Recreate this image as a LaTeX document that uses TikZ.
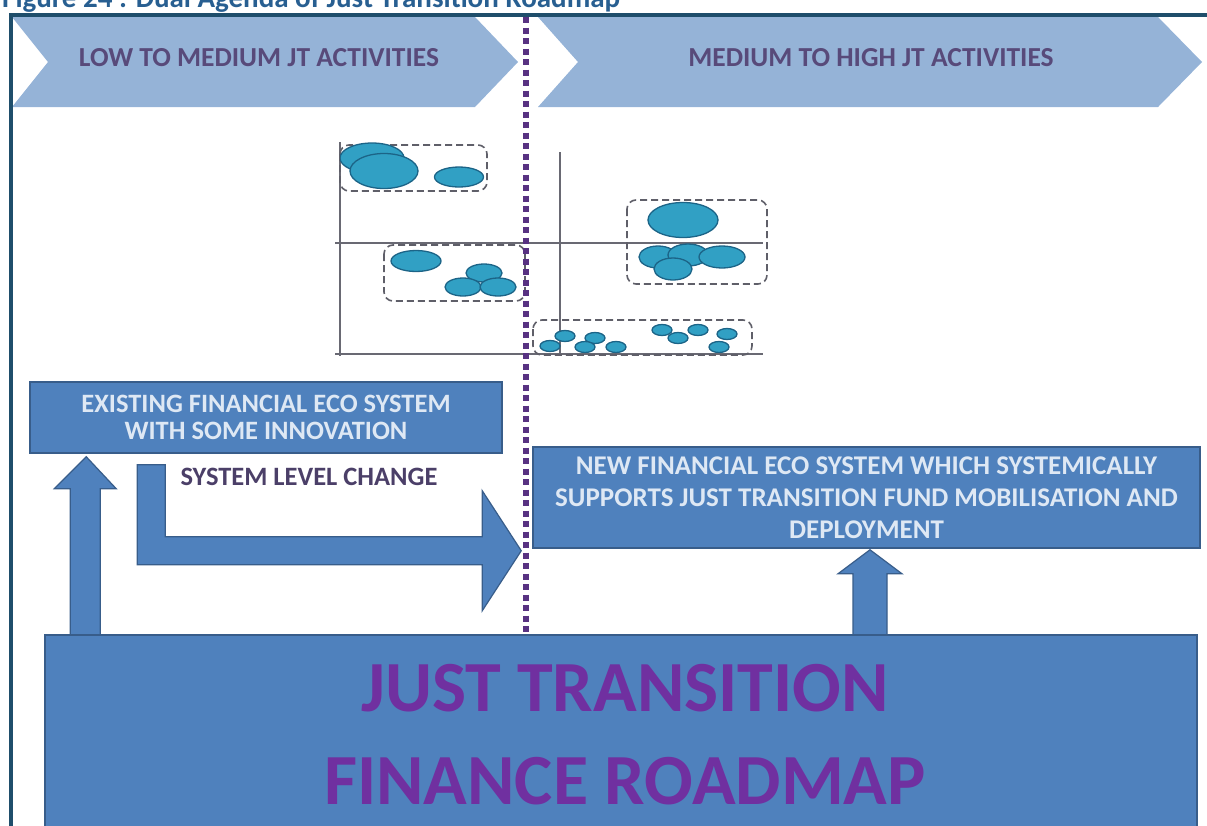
\documentclass[tikz,border=0pt]{standalone}
\usepackage{fontspec}
\setmainfont{Carlito}
\usepackage{tikz}
\usetikzlibrary{calc}
\usetikzlibrary{positioning}
\usetikzlibrary{shapes}
\definecolor{framecol}{RGB}{31,78,107}
\definecolor{chevfill}{RGB}{149,179,215}
\definecolor{headtxt}{RGB}{88,74,122}
\definecolor{boxfill}{RGB}{79,129,189}
\definecolor{boxline}{RGB}{56,93,138}
\definecolor{boxtxt}{RGB}{222,232,244}
\definecolor{dotcol}{RGB}{88,50,130}
\definecolor{bubfill}{RGB}{49,160,196}
\definecolor{bubline}{RGB}{28,100,135}
\definecolor{axiscol}{RGB}{105,105,115}
\definecolor{grpline}{RGB}{95,95,105}
\definecolor{wordart}{RGB}{112,48,160}
\definecolor{titlecol}{RGB}{40,95,145}
\tikzset{
  figtitle/.style = {font=\fontsize{29}{33}\selectfont\bfseries, text=titlecol, inner sep=0pt},
  chevron/.style = {fill=chevfill},
  headlabel/.style = {font=\fontsize{27.5}{31}\selectfont\bfseries, text=headtxt},% band labels
  ecobox/.style = {fill=boxfill, draw=boxline, line width=1.5pt, align=center, text=boxtxt,
    inner sep=0pt, font=\fontsize{26.5}{26.5}\selectfont\bfseries},
  roadbox/.style = {ecobox, text=wordart, font=\fontsize{72}{93}\selectfont\bfseries},
  blockarrow/.style = {fill=boxfill, draw=boxline, line width=1.2pt, line join=miter},
  changelabel/.style = {font=\fontsize{26.5}{30}\selectfont\bfseries, text=headtxt!85!black},
  group/.style = {draw=grpline, line width=1.6pt, rounded corners=9pt, dash pattern=on 7pt off 4pt},
  axis/.style = {draw=axiscol, line width=1.2pt},
  bubble/.style = {fill=bubfill, draw=bubline, line width=1.3pt},
  jtsep/.style = {draw=dotcol, line width=5.5pt, dash pattern=on 6pt off 4.5pt},
}
\begin{document}
\begin{tikzpicture}[x=1pt,y=-1pt]
\useasboundingbox (0,0) rectangle (1207,825);
\clip (0,0) rectangle (1207,825);
% caption, cut by the top edge
\node[figtitle, anchor=base west] (title) at (2,7) {Figure 24 : Dual Agenda of Just Transition Roadmap};

% the two bands
\fill[chevron] (12,17) -- (475,17) -- (518,62) -- (475,107) -- (12,107) -- (48,62) -- cycle;
\fill[chevron] (538,17) -- (1158,17) -- (1202,62) -- (1158,107) -- (538,107) -- (578,62) -- cycle;
\node[headlabel] (lowjt) at (259,58) {LOW TO MEDIUM JT ACTIVITIES};
\node[headlabel] (highjt) at (871,58) {MEDIUM TO HIGH JT ACTIVITIES};

% bubble chart
\draw[axis] (340,142) -- (340,356);
\draw[axis] (560,152) -- (560,354);
\draw[axis] (335,243) -- (763,243);
\draw[axis] (335,354) -- (763,354);
\draw[group] (340,145) rectangle (487,191);
\draw[group] (384,245) rectangle (525,301);
\draw[group] (627,200) rectangle (767,284);
\draw[group] (533,320) rectangle (752,355);
\begin{scope}
  \clip (340,130) rectangle (800,360);
  \foreach \x/\y/\rx/\ry in {372/158/32/15, 384/171/34/17.5, 459/177/24.5/10,
      416/261/25/10.5, 484/273/18/9, 463/287/18/9, 498/287/18/9,
      683/220/35/17.5, 658/257/19/11, 688/255/20/11, 722/257/23/11, 673/269/19/11}
    \draw[bubble] (\x,\y) ellipse [x radius=\rx pt, y radius=\ry pt];
  \foreach \x/\y in {565/336, 550/346, 595/338, 585/347, 616/347,
      662/330, 678/338, 698/330, 727/334, 719/347}
    \draw[bubble] (\x,\y) ellipse [x radius=10pt, y radius=5.5pt];
\end{scope}

% boxes
\node[ecobox, minimum width=472pt, minimum height=71pt] (existing) at (266,417.5)
  {EXISTING FINANCIAL ECO SYSTEM\\WITH SOME INNOVATION};
\node[ecobox, minimum width=667pt, minimum height=101pt, font=\fontsize{27}{32}\selectfont\bfseries] (newsys) at (866.5,497.5)
  {NEW FINANCIAL ECO SYSTEM WHICH SYSTEMICALLY\\SUPPORTS JUST TRANSITION FUND MOBILISATION AND\\DEPLOYMENT};

% arrows
\coordinate (laTip) at ($(existing.south west)+(57,3)$);
\draw[blockarrow] (laTip) -- ++(30,32) -- ++(-16,0) -- ++(0,150) -- ++(-30,0) -- ++(0,-150) -- ++(-16,0) -- cycle;
\coordinate (raTip) at ($(newsys.south)+(3.5,1)$);
\draw[blockarrow] (raTip) -- ++(32,24) -- ++(-15,0) -- ++(0,66) -- ++(-34,0) -- ++(0,-66) -- ++(-15,0) -- cycle;
\coordinate (bendStart) at ($(existing.south west)+(108,11)$);
\draw[blockarrow] (bendStart) -- ++(28,0) -- ++(0,72) -- ++(317,0) -- ++(0,-46) -- ++(39,60)
  -- ++(-39,60) -- ++(0,-46) -- ++(-345,0) -- cycle;
\node[changelabel] (change) at (309,477) {SYSTEM LEVEL CHANGE};

\node[roadbox, minimum width=1152pt, minimum height=200pt] (roadmap) at (621,735) {};
\node[roadbox, draw=none, fill=none] (roadtext) at ($(roadmap.center)+(4,0)$) {JUST TRANSITION\\FINANCE ROADMAP};

% JT divide
\draw[jtsep] (526,17) -- (526,633);

% frame
\draw[framecol, line width=4pt] (10.5,830) -- (10.5,14.5) -- (1212,14.5);
\end{tikzpicture}
\end{document}
